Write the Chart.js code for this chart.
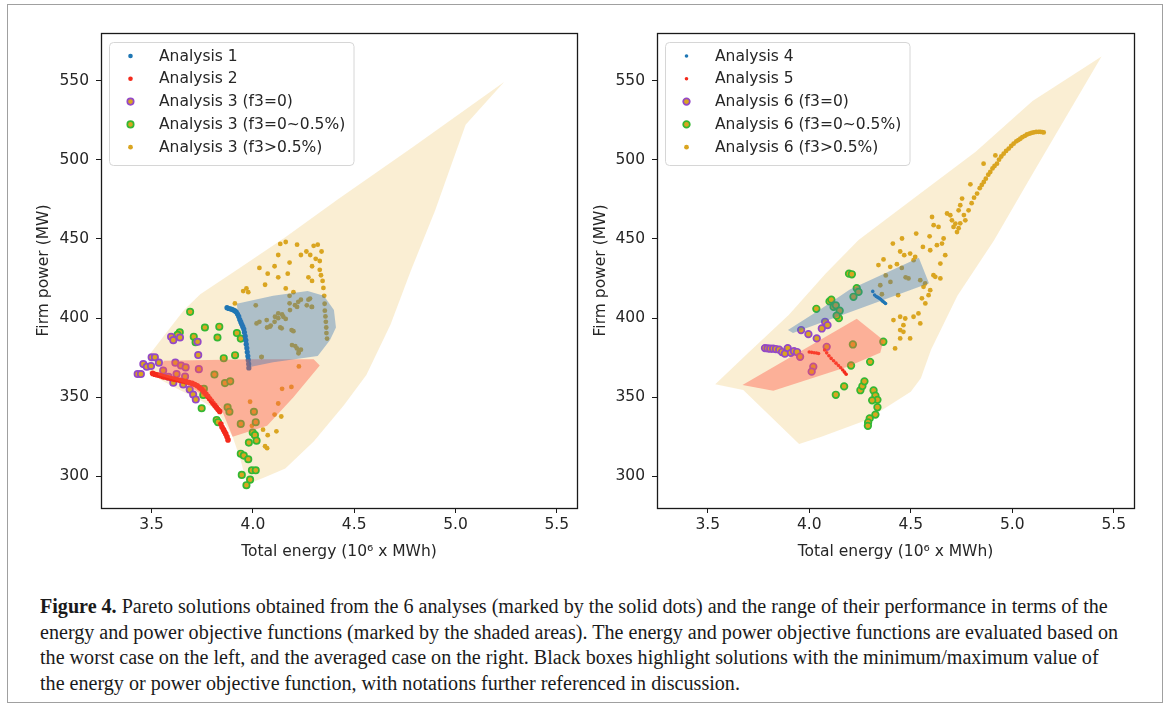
<!DOCTYPE html>
<html lang="en">
<head>
<meta charset="UTF-8">
<title>Figure 4 - Pareto solutions</title>
<script src="https://cdn.jsdelivr.net/npm/chart.js"></script>
<style>
    body { margin: 0; background: #fff; }
    #page { position: relative; width: 1170px; height: 708px; overflow: hidden; }
    #frame { position: absolute; left: 7px; top: 4px; width: 1156px; height: 699px; border: 1px solid #a0a0a0; box-sizing: border-box; }
    canvas { position: absolute; top: 0; }
    #leftCanvas { left: 0; }
    #rightCanvas { left: 585px; }
    #caption { position: absolute; left: 40px; top: 594px; font-family: "Liberation Serif", serif; font-size: 20px; color: #1a1a1a; }
    #caption div { white-space: nowrap; line-height: 25.7px; transform-origin: left center; }
</style>
</head>
<body>
<div id="page">
    <div id="frame"></div>
    <canvas id="leftCanvas" width="585" height="580"></canvas>
    <canvas id="rightCanvas" width="585" height="580"></canvas>
    <div id="caption">
        <div><b>Figure 4.</b> Pareto solutions obtained from the 6 analyses (marked by the solid dots) and the range of their performance in terms of the</div>
        <div>energy and power objective functions (marked by the shaded areas). The energy and power objective functions are evaluated based on</div>
        <div>the worst case on the left, and the averaged case on the right. Black boxes highlight solutions with the minimum/maximum value of</div>
        <div>the energy or power objective function, with notations further referenced in discussion.</div>
    </div>
</div>

<script>
// axis ticks (both panels)
const xTicks = [3.5, 4.0, 4.5, 5.0, 5.5];
const yTicks = [300, 350, 400, 450, 500, 550];

// ---- left panel: worst case ----
const leftLabels = ['Analysis 1', 'Analysis 2', 'Analysis 3 (f3=0)', 'Analysis 3 (f3=0~0.5%)', 'Analysis 3 (f3>0.5%)'];

const a1 = [[3.872,406.5],[3.88,406],[3.888,405.8],[3.896,405.5],[3.904,405],[3.912,404.5],[3.918,403.8],[3.924,402.5],
    [3.93,401],[3.935,399],[3.94,397.5],[3.945,396],[3.95,394.5],[3.955,393],[3.958,391],[3.962,388.5],[3.965,386],
    [3.967,383.5],[3.97,381],[3.972,378.5],[3.975,376],[3.977,373.5],[3.979,371],[3.98,368.5]];

const a2 = [[3.505,365],[3.515,364.5],[3.525,364.2],[3.535,363.8],[3.545,363.5],[3.555,363],[3.565,362.7],[3.58,362.3],
    [3.595,361.8],[3.61,361.4],[3.625,361],[3.64,360.6],[3.655,360.2],[3.67,359.8],[3.685,359.3],[3.7,358.7],[3.713,358],
    [3.725,357.2],[3.737,356],[3.748,354.8],[3.758,353.4],[3.768,352],[3.777,350.5],[3.786,349],[3.795,347.6],[3.803,346.2],
    [3.812,344.8],[3.82,343.4],[3.828,342.2],[3.836,341],[3.842,333],[3.848,331],[3.855,329.5],[3.86,328.2],[3.866,326.8],
    [3.872,325],[3.877,323]];

const a3f0 = [[3.431,364.6],[3.447,364.6],[3.459,370.9],[3.476,369.2],[3.497,369.7],[3.5,375.2],[3.516,375.2],[3.536,371.8],
    [3.557,366.8],[3.583,362.9],[3.596,388.1],[3.607,386],[3.64,387.7],[3.607,359.1],[3.617,371.8],[3.623,364.6],[3.645,370],
    [3.656,358],[3.665,363],[3.668,368.8],[3.688,354.8],[3.705,351.7],[3.718,348.5],[3.727,385],[3.73,376.6],[3.733,367.7]];

const a3f1 = [[3.69,403.9],[3.763,394],[3.834,394.5],[3.708,388.2],[3.639,391],[3.628,389.4],[3.717,384.7],[3.825,387.7],
    [3.921,390.5],[3.94,387],[3.912,376.5],[3.856,374.6],[3.81,364.3],[3.862,358.9],[3.888,360],[3.758,355.3],[3.755,351.4],
    [3.747,343],[3.821,335.6],[3.828,334.2],[3.875,343.6],[3.884,340.8],[3.94,333.1],[4.005,340.8],[4.014,334.2],[3.999,327.7],
    [4.01,326],[3.98,321.3],[4.018,322.5],[3.94,314.3],[3.955,313.1],[3.977,310.8],[3.995,303.8],[4.014,303.8],[3.945,300.9],
    [3.986,297.9],[3.968,294.4]];

const a3f2 = [[4.135,446.8],[4.162,448],[4.218,446.3],[4.125,439.8],[4.181,435],[4.237,439.8],[4.032,431.6],[4.073,428],
    [4.107,432.7],[4.125,425.7],[4.172,428],[3.968,418.7],[3.977,416.3],[4.06,421],[4.162,418.7],[4.181,414],[4.2,416.3],
    [4.014,408],[4.181,409.3],[4.218,407],[4.237,411.6],[4.274,411.6],[4.292,407],[4.125,399.9],[4.107,397.6],[4.144,402.2],
    [4.162,399.4],[4.088,395.2],[4.07,394],[4.135,394],[4.2,391.7],[4.032,397.6],[4.209,382.3],[4.227,378.8],[4.237,380],
    [4.042,375.3],[4.266,408],[4.227,369.4],[4.144,355.3],[4.19,356.5],[4.125,346],[3.986,347.1],[4.107,339],[4.14,337.8],
    [4.116,328.4],[4.05,329.5],[4.073,326],[4.06,319],[4.07,317.8],[3.995,331.9],[4.30,445.6],[4.32,446.3],[4.339,442],
    [4.264,442],[4.283,439.8],[4.31,437.4],[4.292,432.7],[4.33,430.4],[4.344,423.4],[4.348,419],[4.352,414],[4.354,409],
    [4.355,404.6],[4.358,401],[4.36,397.6],[4.362,394],[4.363,390.5],[4.366,387],[4.292,423.4],[4.274,425.7],[4.33,436],
    [4.336,427],[4.018,396.6],[4.068,398.7],[4.109,400.8],[4.125,402.9],[4.15,400.8],[4.183,405],[4.208,408.1],[4.224,410.2],
    [4.084,394.5],[4.142,393.5],[4.191,392.4],[4.282,412.3],[4.29,407],[4.193,382.9],[4.217,380.8],[4.225,377.7],[4.043,375.5],
    [3.911,409.2],[3.952,417]];

// shaded performance ranges, left panel (polygon vertices)
const leftRange3 = [[3.48,369],[3.49,377],[3.58,392],[3.66,405],[3.74,415],[3.94,432],[4.16,451],[4.42,475],[4.79,508],
    [5.24,549],[5.05,522],[4.9,468],[4.78,430],[4.68,396],[4.56,364],[4.45,345],[4.3,322],[4.16,305],[4.05,299],[3.97,295],
    [3.94,310],[3.9,325],[3.82,342],[3.74,348],[3.6,357],[3.49,365]];
const leftRange2 = [[3.53,364],[3.56,373],[4.0,374],[4.3,374],[4.33,370],[4.2,350],[4.07,332],[3.9,325],[3.84,344],[3.66,359]];
const leftRange1 = [[3.92,409],[4.1,414],[4.27,417],[4.35,414],[4.4,405],[4.41,394],[4.38,386],[4.32,376],[4.1,372],
    [3.985,369],[3.95,390],[3.93,400]];

// ---- right panel: averaged case ----
const rightLabels = ['Analysis 4', 'Analysis 5', 'Analysis 6 (f3=0)', 'Analysis 6 (f3=0~0.5%)', 'Analysis 6 (f3>0.5%)'];

const a4 = [[4.313,416.8],[4.322,414.5],[4.33,413.6],[4.338,413],[4.345,412.5],[4.352,411.8],[4.358,411],[4.364,410.4],
    [4.37,409.8],[4.376,409.2]];

const a5 = [[4.0,378.5],[4.012,378.3],[4.024,378.1],[4.036,377.9],[4.046,377.6],[4.076,379.8],[4.086,378],[4.097,376.2],
    [4.108,374.5],[4.12,373],[4.132,371.5],[4.144,370],[4.155,368.6],[4.165,367.2],[4.174,365.8],[4.182,364.5]];

const a6f0 = [[3.782,381],[3.795,380.8],[3.808,380.6],[3.822,380.6],[3.836,380.4],[3.852,380],[3.866,378.5],[3.88,377.5],
    [3.894,381],[3.91,378],[3.925,379],[3.94,378.5],[3.955,375.5],[3.96,392.4],[3.996,389.8],[4.037,387.1],[4.062,393.4],
    [4.078,397.6],[4.09,395.5],[4.086,381.8],[4.02,369.2],[4.012,366.1]];

const a6f1 = [[4.196,428],[4.21,427.6],[4.035,405.8],[4.1,410.5],[4.109,411.6],[4.12,407],[4.131,408],[4.15,404.6],
    [4.146,399.9],[4.135,401.5],[4.218,413.4],[4.234,418.8],[4.243,416.5],[4.215,383.3],[4.206,370],[4.3,372.3],[4.365,385],
    [4.131,351.5],[4.172,356.8],[4.252,354.4],[4.262,357],[4.272,360],[4.317,354.2],[4.326,351],[4.336,348.3],[4.31,348],
    [4.336,343.6],[4.326,339],[4.298,336.6],[4.29,334],[4.289,331.9]];

const a6f2 = [[4.785,468],[4.8,472.5],[4.812,476],[4.827,478.6],[4.84,482],[4.85,484],[4.86,485.9],[4.87,488],[4.882,490.5],
    [4.892,492.2],[4.903,494.5],[4.913,496],[4.925,497.5],[4.935,500],[4.946,502],[4.958,503.8],[4.97,505.5],[4.983,507],
    [4.995,508.7],[5.007,510.1],[5.02,511.6],[5.03,512.4],[5.04,513.2],[5.05,514.2],[5.062,515],[5.073,515.9],[5.085,516.4],
    [5.095,516.9],[5.106,517.2],[5.118,517.5],[5.13,517.6],[5.139,517.6],[5.148,517.4],[5.155,517.2],
    [4.917,502.7],[4.859,497.5],[4.794,484.4],[4.753,475.4],
    [4.744,471.2],[4.736,468],[4.695,464.9],[4.679,466],[4.703,461.7],[4.72,459.6],[4.711,457.5],[4.744,459.8],[4.736,456.7],
    [4.728,454.3],[4.769,461.7],[4.762,465],
    [4.605,463.8],[4.613,458.6],[4.637,457.5],[4.527,453.3],[4.593,451.6],[4.56,444.9],[4.662,450.2],[4.654,447],[4.629,446],
    [4.596,442.8],[4.457,450.2],[4.412,447],[4.468,439.7],[4.522,438.6],[4.514,436.5],[4.432,434],[4.399,432.3],[4.366,437],
    [4.646,434.4],[4.67,439.7],[4.612,427],[4.621,426],[4.646,425],[4.563,419.7],[4.596,417.6],[4.588,414.4],[4.555,412.4],
    [4.572,409.2],[4.341,433.4],[4.448,442],[4.497,440.7],
    [4.35,420.7],[4.4,422.8],[4.377,426.9],[4.358,415],[4.456,431.6],[4.489,425],[4.547,423.9],[4.571,421.8],[4.438,414.4],
    [4.475,425.7],
    [4.415,398.7],[4.448,400.8],[4.473,399.7],[4.514,400.8],[4.538,402.9],[4.448,392.4],[4.464,391.3],[4.448,387.1],
    [4.497,387.1],[4.423,380.8],[4.464,395.5],[4.547,396.6]];

const rightRange6 = [[3.537,358.2],[3.7,378],[3.9,402],[4.08,428],[4.243,449.2],[4.54,478],[4.82,505],[5.1,537],[5.44,565.2],
    [5.1,491],[4.91,449],[4.73,414],[4.6,380],[4.55,362],[4.5,353.5],[4.28,335.4],[4.06,325],[3.95,320.5],[3.675,354.5]];
const rightRange5 = [[3.671,357.7],[3.823,354],[4.185,369],[4.35,378],[4.366,386],[4.234,399.5]];
const rightRange4 = [[3.895,392.5],[4.05,405],[4.2,418],[4.54,438],[4.59,422],[3.92,390.5]];

// colours
const cBlue = '#1f77b4', cRed = '#f42a1c', cGold = '#daa520', cPurple = '#9448c8', cGreen = '#33b833';
const textColor = '#262626';

Chart.defaults.font.family = '"DejaVu Sans", sans-serif';
Chart.defaults.font.size = 15.5;
Chart.defaults.color = textColor;

function pts(arr) {
    return arr.map(p => ({x: p[0], y: p[1]}));
}

function closed(arr) {
    let d = pts(arr);
    d.push({x: arr[0][0], y: arr[0][1]});
    return d;
}

function dotSet(label, arr, color, r) {
    return {label: label, data: pts(arr), backgroundColor: color, borderColor: color, borderWidth: 0,
        pointRadius: r, inLegend: true, order: 2};
}

function ringSet(label, arr, edge, r) {
    return {label: label, data: pts(arr), backgroundColor: cGold, borderColor: edge, borderWidth: 1.7,
        pointRadius: r, inLegend: true, order: 2};
}

function shapeSet(arr, color, order) {
    return {data: closed(arr), showLine: true, fill: 'shape', backgroundColor: color, borderWidth: 0,
        borderColor: 'rgba(0,0,0,0)', pointRadius: 0, order: order};
}

// frame around the plot area
let boxPlugin = {
    id: 'boxPlugin',
    afterDraw: function(chart) {
        let ctx = chart.ctx, a = chart.chartArea;
        ctx.save();
        ctx.strokeStyle = '#1a1a1a';
        ctx.lineWidth = 1.3;
        ctx.strokeRect(Math.round(a.left) + 0.5, Math.round(a.top) + 0.5, Math.round(a.right - a.left), Math.round(a.bottom - a.top));
        ctx.restore();
    }
};

// matplotlib style legend in the upper left corner
let legendPlugin = {
    id: 'legendPlugin',
    afterDraw: function(chart) {
        let ctx = chart.ctx, a = chart.chartArea;
        let items = chart.data.datasets.filter(d => d.inLegend);
        let x0 = a.left + 8.5, y0 = a.top + 9.5, w = 244.5, h = 123;
        ctx.save();
        ctx.beginPath();
        ctx.roundRect(x0, y0, w, h, 4);
        ctx.fillStyle = 'rgba(255,255,255,0.85)';
        ctx.fill();
        ctx.strokeStyle = '#d6d6d6';
        ctx.lineWidth = 1;
        ctx.stroke();
        ctx.font = '15.5px "DejaVu Sans"';
        ctx.textBaseline = 'middle';
        items.forEach((d, i) => {
            let y = y0 + 13.5 + i * 22.8;
            ctx.beginPath();
            ctx.arc(x0 + 21, y, d.legendRadius || d.pointRadius, 0, Math.PI * 2);
            ctx.fillStyle = d.backgroundColor;
            ctx.fill();
            if (d.borderWidth > 0) {
                ctx.lineWidth = d.borderWidth;
                ctx.strokeStyle = d.borderColor;
                ctx.stroke();
            }
            ctx.fillStyle = textColor;
            ctx.fillText(d.label, x0 + 49.5, y + 0.5);
        });
        ctx.restore();
    }
};

function makeChart(id, datasets, yAxisWidth, padRight, yTitlePad) {
    let ctx = document.getElementById(id).getContext('2d');
    return new Chart(ctx, {
        type: 'scatter',
        data: {datasets: datasets},
        options: {
            responsive: false,
            animation: false,
            events: [],
            layout: {padding: {left: 0, top: 33, right: padRight, bottom: 0}},
            plugins: {legend: {display: false}, tooltip: {enabled: false}},
            scales: {
                x: {
                    type: 'linear', min: 3.25, max: 5.6,
                    afterBuildTicks: s => { s.ticks = xTicks.map(v => ({value: v})); },
                    afterFit: s => { s.height = 72; },
                    ticks: {callback: v => v.toFixed(1), padding: 3, color: textColor, maxRotation: 0},
                    grid: {drawOnChartArea: false, drawTicks: true, tickLength: 5, color: '#1a1a1a'},
                    border: {display: false},
                    title: {display: true, text: 'Total energy (10\u2076 x MWh)', padding: {top: 0, bottom: 19}, color: textColor}
                },
                y: {
                    type: 'linear', min: 280, max: 580,
                    afterBuildTicks: s => { s.ticks = yTicks.map(v => ({value: v})); },
                    afterFit: s => { s.width = yAxisWidth; },
                    ticks: {padding: 7, color: textColor},
                    grid: {drawOnChartArea: false, drawTicks: true, tickLength: 5, color: '#1a1a1a'},
                    border: {display: false},
                    title: {display: true, text: 'Firm power (MW)', padding: {top: yTitlePad, bottom: 0}, color: textColor}
                }
            }
        },
        plugins: [boxPlugin, legendPlugin]
    });
}

let leftSets = [
    dotSet(leftLabels[0], a1, cBlue, 2.6),
    dotSet(leftLabels[1], a2, cRed, 2.8),
    ringSet(leftLabels[2], a3f0, cPurple, 3.2),
    ringSet(leftLabels[3], a3f1, cGreen, 3.2),
    dotSet(leftLabels[4], a3f2, cGold, 2.4),
    shapeSet(leftRange3, 'rgba(242,205,130,0.35)', 5),
    shapeSet(leftRange2, 'rgba(255,90,70,0.42)', 1),
    shapeSet(leftRange1, 'rgba(50,115,185,0.38)', 0)
];
leftSets[0].legendRadius = 2.3;
leftSets[1].legendRadius = 2.3;

let rightSets = [
    dotSet(rightLabels[0], a4, cBlue, 1.8),
    dotSet(rightLabels[1], a5, cRed, 1.8),
    ringSet(rightLabels[2], a6f0, cPurple, 3.3),
    ringSet(rightLabels[3], a6f1, cGreen, 3.3),
    dotSet(rightLabels[4], a6f2, cGold, 2.4),
    shapeSet(rightRange6, 'rgba(242,205,130,0.35)', 5),
    shapeSet(rightRange5, 'rgba(255,90,70,0.42)', 1),
    shapeSet(rightRange4, 'rgba(50,115,185,0.38)', 0)
];

let leftChart = makeChart('leftCanvas', leftSets, 101, 8, 35);
let rightChart = makeChart('rightCanvas', rightSets, 72, 36, 7);

// squeeze caption lines to the printed width
let capLines = document.querySelectorAll('#caption div');
let k = 1078 / capLines[0].scrollWidth;
capLines.forEach(l => { l.style.transform = 'scaleX(' + k.toFixed(4) + ')'; });
</script>
</body>
</html>
